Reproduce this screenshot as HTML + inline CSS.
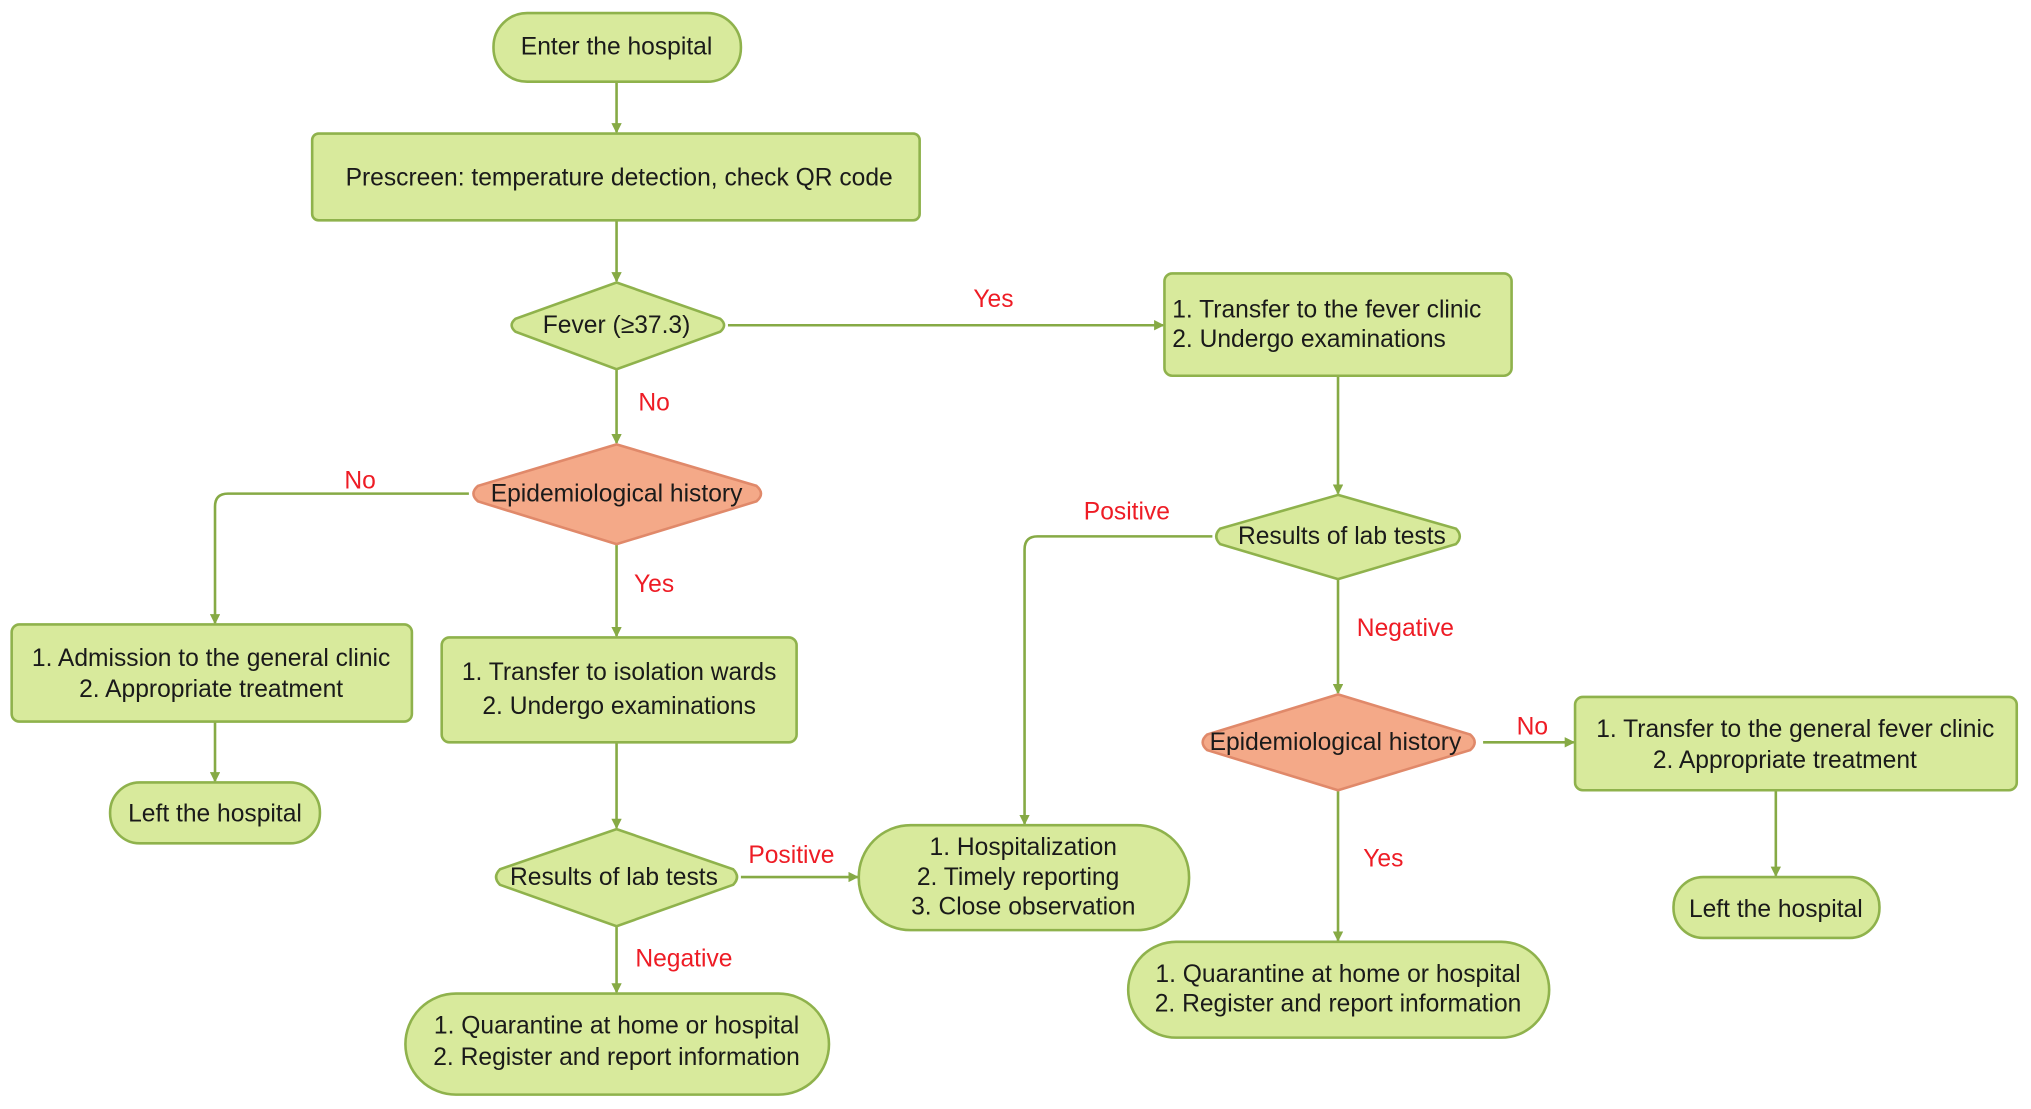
<!DOCTYPE html>
<html><head><meta charset="utf-8"><style>
html,body{margin:0;padding:0;background:#fff;width:2031px;height:1109px;overflow:hidden}
svg{display:block}
text{font-family:"Liberation Sans",Arial,sans-serif;font-size:19px;fill:#1a1a1a}
.r{fill:#ee1c25}
.g{fill:#d8ea9c;stroke:#8fb24c;stroke-width:2}
.s{fill:#f4a988;stroke:#e0896a;stroke-width:2}
.l{fill:none;stroke:#86aa45;stroke-width:2}
</style></head><body>
<svg width="2031" height="1109" viewBox="0 0 1568 856">
<defs><marker id="a" markerWidth="8" markerHeight="8" refX="7" refY="4" orient="auto" markerUnits="userSpaceOnUse"><path d="M0,0 L8,4 L0,8 z" fill="#86aa45"/></marker></defs>
<!-- connectors -->
<path class="l" d="M476,63 V102" marker-end="url(#a)"/>
<path class="l" d="M476,170 V217" marker-end="url(#a)"/>
<path class="l" d="M562,251 H898" marker-end="url(#a)"/>
<path class="l" d="M476,285 V342" marker-end="url(#a)"/>
<path class="l" d="M362,381 H176 Q166,381 166,391 V481" marker-end="url(#a)"/>
<path class="l" d="M166,557 V603" marker-end="url(#a)"/>
<path class="l" d="M476,420 V491" marker-end="url(#a)"/>
<path class="l" d="M476,573 V639" marker-end="url(#a)"/>
<path class="l" d="M572,677 H662" marker-end="url(#a)"/>
<path class="l" d="M476,715 V766" marker-end="url(#a)"/>
<path class="l" d="M1033,290 V381" marker-end="url(#a)"/>
<path class="l" d="M936,414 H801 Q791,414 791,424 V636" marker-end="url(#a)"/>
<path class="l" d="M1033,447 V535" marker-end="url(#a)"/>
<path class="l" d="M1145,573 H1215" marker-end="url(#a)"/>
<path class="l" d="M1033,610 V726" marker-end="url(#a)"/>
<path class="l" d="M1371,610 V676" marker-end="url(#a)"/>
<!-- nodes -->
<rect class="g" x="381" y="10" width="191" height="53" rx="26"/>
<text x="476" y="42" text-anchor="middle">Enter the hospital</text>
<rect class="g" x="241" y="103" width="469" height="67" rx="5"/>
<text x="478" y="143" text-anchor="middle">Prescreen: temperature detection, check QR code</text>
<path class="g" d="M476,218 L556,246 Q562,251 556,256 L476,285 L398,256 Q392,251 398,246 Z"/>
<text x="476" y="257" text-anchor="middle">Fever (≥37.3)</text>
<rect class="g" x="899" y="211" width="268" height="79" rx="6"/>
<text x="905" y="245">1. Transfer to the fever clinic</text>
<text x="905" y="268">2. Undergo examinations</text>
<path class="s" d="M476,343 L584,375 Q591,381 584,387 L476,420 L369,387 Q362,381 369,375 Z"/>
<text x="476" y="387" text-anchor="middle">Epidemiological history</text>
<rect class="g" x="9" y="482" width="309" height="75" rx="6"/>
<text x="163" y="514" text-anchor="middle">1. Admission to the general clinic</text>
<text x="163" y="538" text-anchor="middle">2. Appropriate treatment</text>
<rect class="g" x="85" y="604" width="162" height="47" rx="23"/>
<text x="166" y="634" text-anchor="middle">Left the hospital</text>
<rect class="g" x="341" y="492" width="274" height="81" rx="6"/>
<text x="478" y="525" text-anchor="middle">1. Transfer to isolation wards</text>
<text x="478" y="551" text-anchor="middle">2. Undergo examinations</text>
<path class="g" d="M476,640 L566,671 Q572,677 566,683 L476,715 L386,683 Q380,677 386,671 Z"/>
<text x="474" y="683" text-anchor="middle">Results of lab tests</text>
<rect class="g" x="663" y="637" width="255" height="81" rx="40"/>
<text x="790" y="660" text-anchor="middle">1. Hospitalization</text>
<text x="786" y="683" text-anchor="middle">2. Timely reporting</text>
<text x="790" y="706" text-anchor="middle">3. Close observation</text>
<rect class="g" x="313" y="767" width="327" height="78" rx="39"/>
<text x="476" y="798" text-anchor="middle">1. Quarantine at home or hospital</text>
<text x="476" y="822" text-anchor="middle">2. Register and report information</text>
<path class="g" d="M1033,382 L1124,408 Q1130,414 1124,420 L1033,447 L942,420 Q936,414 942,408 Z"/>
<text x="1036" y="420" text-anchor="middle">Results of lab tests</text>
<path class="s" d="M1033,536 L1135,567 Q1142,573 1135,579 L1033,610 L932,579 Q925,573 932,567 Z"/>
<text x="1031" y="579" text-anchor="middle">Epidemiological history</text>
<rect class="g" x="1216" y="538" width="341" height="72" rx="6"/>
<text x="1386" y="569" text-anchor="middle">1. Transfer to the general fever clinic</text>
<text x="1378" y="593" text-anchor="middle">2. Appropriate treatment</text>
<rect class="g" x="1292" y="677" width="159" height="47" rx="23"/>
<text x="1371" y="708" text-anchor="middle">Left the hospital</text>
<rect class="g" x="871" y="727" width="325" height="74" rx="37"/>
<text x="1033" y="758" text-anchor="middle">1. Quarantine at home or hospital</text>
<text x="1033" y="781" text-anchor="middle">2. Register and report information</text>
<!-- labels -->
<text class="r" x="767" y="237" text-anchor="middle">Yes</text>
<text class="r" x="505" y="317" text-anchor="middle">No</text>
<text class="r" x="278" y="377" text-anchor="middle">No</text>
<text class="r" x="505" y="457" text-anchor="middle">Yes</text>
<text class="r" x="611" y="666" text-anchor="middle">Positive</text>
<text class="r" x="528" y="746" text-anchor="middle">Negative</text>
<text class="r" x="870" y="401" text-anchor="middle">Positive</text>
<text class="r" x="1085" y="491" text-anchor="middle">Negative</text>
<text class="r" x="1183" y="567" text-anchor="middle">No</text>
<text class="r" x="1068" y="669" text-anchor="middle">Yes</text>
</svg>
</body></html>
